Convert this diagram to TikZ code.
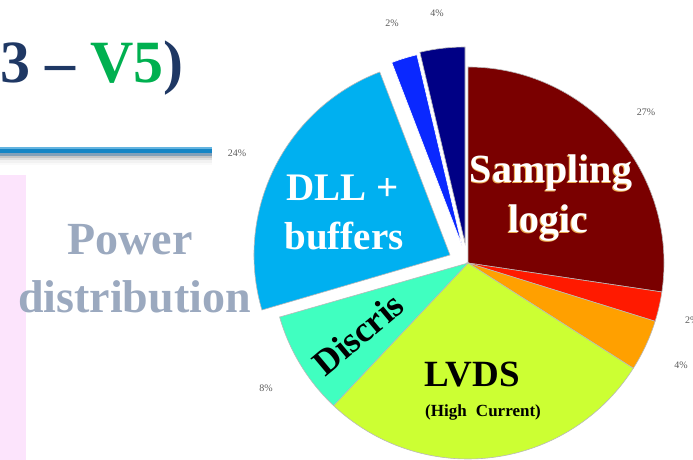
\documentclass[tikz,border=0pt]{standalone}
\usepackage{fontspec}
\setmainfont{Liberation Serif}
\definecolor{titlenavy}{RGB}{31,56,100}
\definecolor{titlegreen}{RGB}{0,176,80}
\definecolor{powergray}{RGB}{155,169,191}
\definecolor{pinkbg}{RGB}{252,228,252}
\definecolor{cmaroon}{RGB}{122,0,0}
\definecolor{cred}{RGB}{255,26,0}
\definecolor{corange}{RGB}{255,160,0}
\definecolor{clvds}{RGB}{204,255,51}
\definecolor{cdiscris}{RGB}{64,255,192}
\definecolor{cdll}{RGB}{0,176,240}
\definecolor{cblue}{RGB}{10,40,255}
\definecolor{cnavy}{RGB}{0,0,133}
\definecolor{shadoworange}{RGB}{235,170,80}
\definecolor{pctgray}{RGB}{90,90,90}
\definecolor{ruleA}{RGB}{100,180,224}
\definecolor{ruleB}{RGB}{21,133,197}
\definecolor{ruleC}{RGB}{130,160,185}
\newcommand{\glowtext}[1]{\makebox[0pt][l]{\hspace{-0.7pt}\raisebox{-0.8pt}{\textcolor{shadoworange}{#1}}}#1}
\tikzset{
  slice/.style={draw=gray!55, line width=0.6pt},
  pct/.style={font=\fontsize{10}{10}\selectfont, text=pctgray, inner sep=0pt},
  bigw/.style={font=\bfseries\fontsize{40}{40}\selectfont, text=white, inner sep=0pt, anchor=base},
  dllw/.style={font=\bfseries\fontsize{39}{39}\selectfont, text=white, inner sep=0pt, anchor=base},
}
\begin{document}
\begin{tikzpicture}[x=1pt,y=1pt]
\useasboundingbox (0,0) rectangle (693,460);
\clip (0,0) rectangle (693,460);
% title
\node[anchor=base west, inner sep=0pt, font=\bfseries\fontsize{60}{60}\selectfont] (title) at (0,377)
  {\textcolor{titlenavy}{3 – }\textcolor{titlegreen}{V5}\textcolor{titlenavy}{)}};
% rule
\fill[gray!4] (0,297) rectangle (212,295);
\fill[gray!10] (0,299.7) rectangle (212,297);
\fill[gray!25] (0,302.3) rectangle (212,299.7);
\fill[gray!45] (0,304.3) rectangle (212,302.3);
\fill[ruleC] (0,306.7) rectangle (212,304.3);
\fill[ruleB] (0,311) rectangle (212,306.7);
\fill[ruleA] (0,313.3) rectangle (212,311);
% pink band
\fill[pinkbg] (0,0) rectangle (26,285);
% Power distribution
\node[anchor=base, inner sep=0pt, text=powergray, font=\bfseries\fontsize{46}{46}\selectfont] (power) at (130,205) {Power};
\node[anchor=base, inner sep=0pt, text=powergray, font=\bfseries\fontsize{46}{46}\selectfont] (distrib) at (134.5,147) {distribution};
% pie
\coordinate (C) at (468,197);
\coordinate (Cdll) at (450,205);
\coordinate (Cblue) at (462,214.5);
\coordinate (Cnavy) at (465,217);
\def\R{196}
\draw[slice, fill=cmaroon] (C) -- ++(-8.5:\R) arc[start angle=-8.5, end angle=90, radius=\R] -- cycle;
\draw[slice, fill=cred] (C) -- ++(-17.3:\R) arc[start angle=-17.3, end angle=-8.5, radius=\R] -- cycle;
\draw[slice, fill=corange] (C) -- ++(-32.5:\R) arc[start angle=-32.5, end angle=-17.3, radius=\R] -- cycle;
\draw[slice, fill=clvds] (C) -- ++(-133.3:\R) arc[start angle=-133.3, end angle=-32.5, radius=\R] -- cycle;
\draw[slice, fill=cdiscris] (C) -- ++(-164:\R) arc[start angle=-164, end angle=-133.3, radius=\R] -- cycle;
\draw[slice, fill=cdll] (Cdll) -- ++(111:\R) arc[start angle=111, end angle=196.3, radius=\R] -- cycle;
\draw[slice, draw=white, fill=cblue] (Cblue) -- ++(103.3:\R) arc[start angle=103.3, end angle=111, radius=\R] -- cycle;
\draw[slice, fill=cnavy] (Cnavy) -- ++(90:\R) arc[start angle=90, end angle=103.3, radius=\R] -- cycle;
% slice labels
\node[bigw] (samp) at (551,277) {\glowtext{Sampling}};
\node[bigw] (logic) at (548,227) {\glowtext{logic}};
\node[dllw] (dll) at (342.5,259) {DLL +};
\node[dllw] (buf) at (344,210) {buffers};
\node[anchor=base, inner sep=0pt, font=\bfseries\fontsize{37}{37}\selectfont] (lvds) at (472,73) {LVDS};
\node[anchor=base, inner sep=0pt, font=\bfseries\fontsize{17}{17}\selectfont] (hc) at (483,43) {(High\hspace{5pt} Current)};
\node[inner sep=0pt, rotate=40, font=\bfseries\fontsize{36}{36}\selectfont] (discris) at (358,126) {Discris};
% percentages
\node[pct] (p24) at (237,307) {24\%};
\node[pct] (p8) at (266,72) {8\%};
\node[pct] (p2a) at (392,437) {2\%};
\node[pct] (p4a) at (437,447) {4\%};
\node[pct] (p27) at (646,348) {27\%};
\node[pct, anchor=west] (p2b) at (685,140) {2\%};
\node[pct] (p4b) at (681,95) {4\%};
\end{tikzpicture}
\end{document}
